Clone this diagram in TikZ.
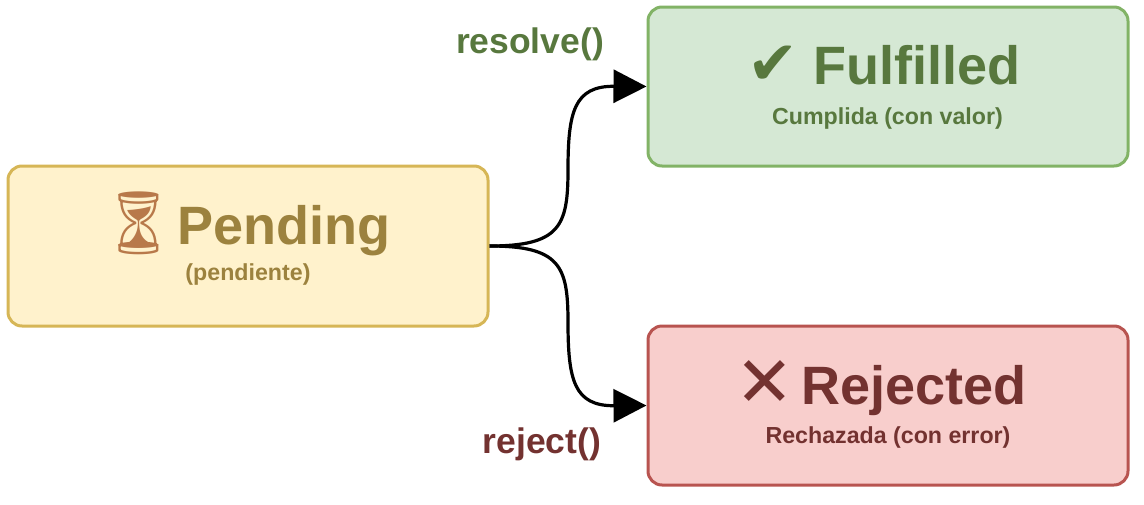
\documentclass[tikz,border=0pt]{standalone}
\usepackage{fontspec}
\setmainfont{Liberation Sans}
\newfontfamily\dejavu{DejaVu Sans}
\newfontfamily\emojifont{Noto Emoji}
\usetikzlibrary{arrows.meta}
\definecolor{pendFill}{HTML}{FFF2CC}
\definecolor{pendDraw}{HTML}{D6B656}
\definecolor{pendText}{HTML}{9C823E}
\definecolor{fulFill}{HTML}{D5E8D4}
\definecolor{fulDraw}{HTML}{82B366}
\definecolor{fulText}{HTML}{58783E}
\definecolor{rejFill}{HTML}{F8CECC}
\definecolor{rejDraw}{HTML}{B85450}
\definecolor{rejText}{HTML}{733230}
\definecolor{hourBrown}{HTML}{B8794A}
\tikzset{
  statebox/.style={rectangle, rounded corners=14pt, line width=3pt,
    minimum width=480pt, minimum height=159pt, inner sep=0pt},
  titletext/.style={font=\bfseries\fontsize{54}{58}\selectfont, anchor=base, inner sep=0pt},
  subtext/.style={font=\bfseries\fontsize{23.2}{26}\selectfont, anchor=base, inner sep=0pt},
  lbltext/.style={font=\bfseries\fontsize{35.5}{40}\selectfont, inner sep=0pt},
  conn/.style={line width=3.2pt, -{Triangle[length=33pt,width=33pt]}},
}
\begin{document}
\begin{tikzpicture}[x=1pt,y=-1pt]
\useasboundingbox (0,0) rectangle (1144,504);
% boxes
\node[statebox, fill=pendFill, draw=pendDraw, minimum height=160pt] (pending) at (248,246) {};
\node[statebox, fill=fulFill, draw=fulDraw] (fulfilled) at (888,86.5) {};
\node[statebox, fill=rejFill, draw=rejDraw] (rejected) at (888,405.5) {};
% texts
\node[titletext, text=pendText] (pendtitle) at (245,244) {{\emojifont\fontsize{62}{64}\selectfont\color{hourBrown}⏳}Pending};
\node[subtext, text=pendText] (pendsub) at (248,280) {(pendiente)};
\node[titletext, text=fulText] (fultitle) at (884,84) {{\dejavu\fontsize{61}{62}\selectfont ✔} Fulfilled};
\node[subtext, text=fulText] (fulsub) at (887.5,124) {Cumplida (con valor)};
\node[titletext, text=rejText] (rejtitle) at (881,404) {\raisebox{-2pt}{\dejavu\bfseries\fontsize{70}{72}\selectfont ✕}\hspace{-8pt} Rejected};
\node[subtext, text=rejText] (rejsub) at (888,443) {Rechazada (con error)};
% connectors
\draw[conn] (pending.east) .. controls (560,246) and (568,226) .. (568,170)
  .. controls (568,112) and (574,86) .. (fulfilled.west);
\draw[conn] (pending.east) .. controls (560,246) and (568,266) .. (568,322)
  .. controls (568,380) and (574,406) .. (rejected.west);
% labels
\node[lbltext, text=fulText] (resolvelbl) at (530,44) {resolve()};
\node[lbltext, text=rejText] (rejectlbl) at (542,444) {reject()};
\end{tikzpicture}
\end{document}
